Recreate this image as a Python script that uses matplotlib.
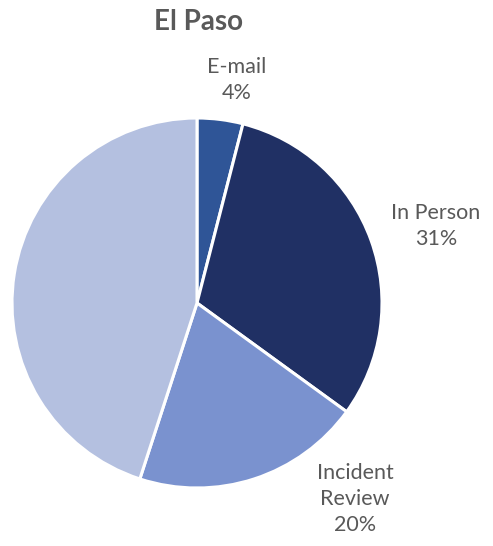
import matplotlib.pyplot as plt

plt.rcParams['font.family'] = ['Lato', 'DejaVu Sans']

title = "El Paso"
categories = ["E-mail", "In Person", "Incident Review", "Other"]
shares = [4, 31, 20, 45]
show_label = [True, True, True, False]
label_text = ["E-mail\n4%", "In Person\n31%", "Incident\nReview\n20%", ""]
colors = ["#2F5597", "#203064", "#7A92CF", "#B4C0E0"]
# label anchor points in pie-radius units
label_xy = [(0.216, 1.205), (1.292, 0.416), (0.854, -1.059), (0, 0)]

fig = plt.figure(figsize=(4.93, 5.46), dpi=100)
ax = fig.add_axes([12 / 493, 58 / 546, 370 / 493, 370 / 546])

ax.pie(shares, colors=colors, startangle=90, counterclock=False,
       radius=1.0, wedgeprops=dict(edgecolor="white", linewidth=2.2))
ax.set_xlim(-1, 1)
ax.set_ylim(-1, 1)
ax.set_aspect("equal")
ax.axis("off")

for show, txt, (x, y) in zip(show_label, label_text, label_xy):
    if show:
        ax.text(x, y, txt, ha="center", va="center", fontsize=15.5,
                color="#595959", linespacing=1.4, clip_on=False)

fig.text(199 / 493, 1 - 22 / 546, title, ha="center", va="center",
         fontsize=20, fontweight="bold", color="#595959")

fig.savefig("out.png", dpi=100, facecolor="white")
